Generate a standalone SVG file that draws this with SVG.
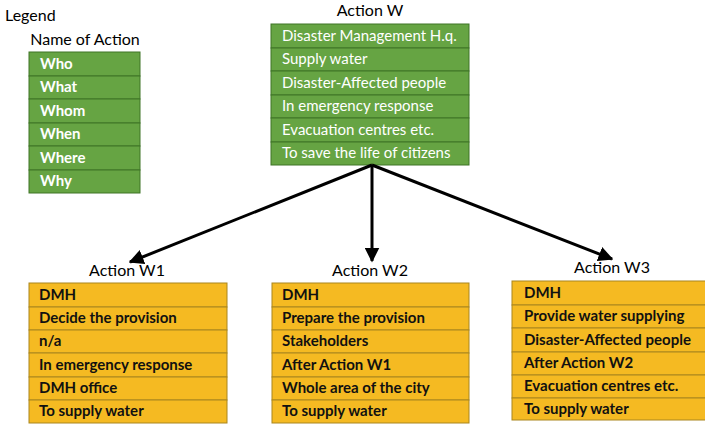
<svg xmlns="http://www.w3.org/2000/svg" width="705" height="426" viewBox="0 0 705 426">
  <defs>
    <style>
      .title { font-family: Lato, "Liberation Sans", sans-serif; font-size: 16px; fill: #000; }
      .g { fill: #66A443; stroke: #3E7426; stroke-width: 1; }
      .o { fill: #F5BA22; stroke: #A9861E; stroke-width: 1; }
      .gt { font-family: Lato, "Liberation Sans", sans-serif; font-size: 15px; fill: #fff; }
      .gtb { font-family: Lato, "Liberation Sans", sans-serif; font-size: 15px; font-weight: bold; fill: #fff; }
      .ot { font-family: Lato, "Liberation Sans", sans-serif; font-size: 15px; font-weight: bold; fill: #111; }
      .conn { stroke: #000; stroke-width: 3; fill: none; }
    </style>
    <marker id="head" viewBox="0 0 10 10" refX="9" refY="5" markerWidth="5" markerHeight="5" orient="auto" markerUnits="strokeWidth">
      <path d="M0,0 L10,5 L0,10 Z" fill="#000"/>
    </marker>
  </defs>
  <rect width="705" height="426" fill="#fff"/>

  <!-- Legend -->
  <g id="legend">
    <text x="5" y="21" class="title">Legend</text>
    <text x="85" y="45" class="title" text-anchor="middle">Name of Action</text>
    <rect x="29" y="52" width="111" height="24" class="g"/>
    <rect x="29" y="76" width="111" height="23" class="g"/>
    <rect x="29" y="99" width="111" height="24" class="g"/>
    <rect x="29" y="123" width="111" height="23" class="g"/>
    <rect x="29" y="146" width="111" height="24" class="g"/>
    <rect x="29" y="170" width="111" height="23" class="g"/>
    <text x="40" y="69" class="gtb">Who</text>
    <text x="40" y="92" class="gtb">What</text>
    <text x="40" y="116" class="gtb">Whom</text>
    <text x="40" y="139" class="gtb">When</text>
    <text x="40" y="163" class="gtb">Where</text>
    <text x="40" y="186" class="gtb">Why</text>
  </g>

  <!-- Action W -->
  <g id="action-w">
    <text x="370" y="16" class="title" text-anchor="middle">Action W</text>
    <rect x="271" y="24" width="198" height="24" class="g"/>
    <rect x="271" y="48" width="198" height="23" class="g"/>
    <rect x="271" y="71" width="198" height="24" class="g"/>
    <rect x="271" y="95" width="198" height="23" class="g"/>
    <rect x="271" y="118" width="198" height="24" class="g"/>
    <rect x="271" y="142" width="198" height="23" class="g"/>
    <text x="282" y="41" class="gt">Disaster Management H.q.</text>
    <text x="282" y="64" class="gt">Supply water</text>
    <text x="282" y="88" class="gt">Disaster-Affected people</text>
    <text x="282" y="111" class="gt">In emergency response</text>
    <text x="282" y="135" class="gt">Evacuation centres etc.</text>
    <text x="282" y="158" class="gt">To save the life of citizens</text>
  </g>

  <!-- Action W1 -->
  <g id="action-w1">
    <text x="127" y="276" class="title" text-anchor="middle">Action W1</text>
    <rect x="29" y="283" width="198" height="24" class="o"/>
    <rect x="29" y="307" width="198" height="23" class="o"/>
    <rect x="29" y="330" width="198" height="23" class="o"/>
    <rect x="29" y="353" width="198" height="24" class="o"/>
    <rect x="29" y="377" width="198" height="23" class="o"/>
    <rect x="29" y="400" width="198" height="23" class="o"/>
    <text x="39" y="300" class="ot">DMH</text>
    <text x="39" y="323" class="ot">Decide the provision</text>
    <text x="39" y="346" class="ot">n/a</text>
    <text x="39" y="370" class="ot">In emergency response</text>
    <text x="39" y="393" class="ot">DMH office</text>
    <text x="39" y="416" class="ot">To supply water</text>
  </g>

  <!-- Action W2 -->
  <g id="action-w2">
    <text x="370" y="276" class="title" text-anchor="middle">Action W2</text>
    <rect x="272" y="283" width="197" height="24" class="o"/>
    <rect x="272" y="307" width="197" height="23" class="o"/>
    <rect x="272" y="330" width="197" height="23" class="o"/>
    <rect x="272" y="353" width="197" height="24" class="o"/>
    <rect x="272" y="377" width="197" height="23" class="o"/>
    <rect x="272" y="400" width="197" height="23" class="o"/>
    <text x="282" y="300" class="ot">DMH</text>
    <text x="282" y="323" class="ot">Prepare the provision</text>
    <text x="282" y="346" class="ot">Stakeholders</text>
    <text x="282" y="370" class="ot">After Action W1</text>
    <text x="282" y="393" class="ot">Whole area of the city</text>
    <text x="282" y="416" class="ot">To supply water</text>
  </g>

  <!-- Action W3 -->
  <g id="action-w3">
    <text x="612" y="273" class="title" text-anchor="middle">Action W3</text>
    <rect x="512" y="281" width="200" height="24" class="o"/>
    <rect x="512" y="305" width="200" height="23" class="o"/>
    <rect x="512" y="328" width="200" height="24" class="o"/>
    <rect x="512" y="352" width="200" height="23" class="o"/>
    <rect x="512" y="375" width="200" height="23" class="o"/>
    <rect x="512" y="398" width="200" height="22" class="o"/>
    <text x="524" y="298" class="ot">DMH</text>
    <text x="524" y="321" class="ot">Provide water supplying</text>
    <text x="524" y="345" class="ot">Disaster-Affected people</text>
    <text x="524" y="368" class="ot">After Action W2</text>
    <text x="524" y="391" class="ot">Evacuation centres etc.</text>
    <text x="524" y="414" class="ot">To supply water</text>
  </g>

  <!-- Connectors -->
  <g id="connectors">
    <line x1="372" y1="165" x2="130" y2="262" class="conn" marker-end="url(#head)"/>
    <line x1="372" y1="165" x2="372" y2="261" class="conn" marker-end="url(#head)"/>
    <line x1="372" y1="165" x2="612" y2="259" class="conn" marker-end="url(#head)"/>
  </g>
</svg>
